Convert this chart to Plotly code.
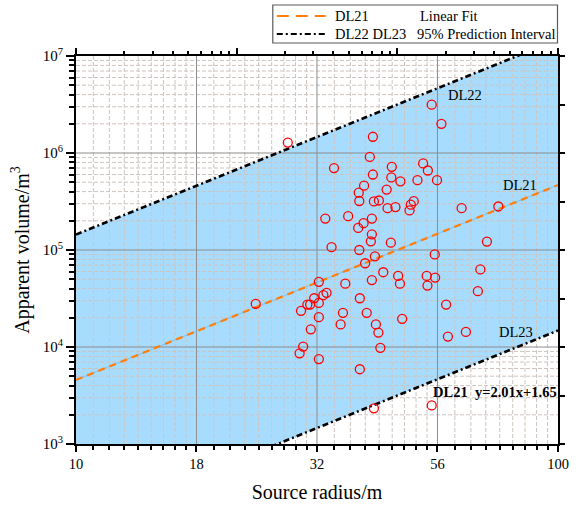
import math
import plotly.graph_objects as go

# ---------------- data ----------------
radius_m = [27.5, 54.7, 57.3, 41.3, 40.7, 34.3, 45.2, 52.5, 53.7, 41.3,
            45.1, 47.1, 51.1, 56.1, 39.6, 38.6, 44.1, 38.7, 41.5, 42.5,
            50.2, 49.5, 49.2, 44.3, 46.0, 63.1, 75.2, 32.9, 36.7, 41.1,
            39.5, 38.5, 41.1, 40.9, 45.0, 71.2, 33.9, 38.7, 41.7, 39.8,
            55.5, 69.0, 43.4, 46.6, 47.0, 53.4, 55.6, 53.6, 41.1, 36.2,
            31.9, 68.2, 31.2, 32.6, 33.1, 30.2, 30.6, 31.9, 29.3, 38.8,
            35.8, 40.1, 31.9, 35.4, 41.9, 42.4, 30.7, 47.5, 58.6, 59.1,
            64.4, 29.6, 29.1, 42.8, 31.9, 38.8, 41.5, 54.7, 23.6]
volume_m3 = [1.28e6, 3.15e6, 2.00e6, 1.47e6, 9.1e5, 7.0e5, 7.2e5, 7.8e5, 6.6e5, 6.0e5,
             5.6e5, 5.1e5, 5.25e5, 5.25e5, 4.6e5, 3.9e5, 4.2e5, 3.2e5, 3.17e5, 3.24e5,
             3.19e5, 2.93e5, 2.56e5, 2.70e5, 2.77e5, 2.70e5, 2.81e5, 2.11e5, 2.23e5, 2.11e5,
             1.89e5, 1.69e5, 1.45e5, 1.23e5, 1.19e5, 1.22e5, 1.07e5, 1.00e5, 8.6e4, 7.3e4,
             9.0e4, 6.3e4, 5.9e4, 5.4e4, 4.5e4, 5.4e4, 5.2e4, 4.3e4, 4.9e4, 4.5e4,
             4.7e4, 3.76e4, 3.18e4, 3.42e4, 3.62e4, 2.74e4, 2.74e4, 2.85e4, 2.36e4, 3.18e4,
             2.25e4, 2.25e4, 2.03e4, 1.71e4, 1.71e4, 1.41e4, 1.52e4, 1.95e4, 2.74e4, 1.28e4,
             1.43e4, 1.01e4, 8.6e3, 9.8e3, 7.5e3, 5.9e3, 2.33e3, 2.50e3, 2.79e4]

# linear fit in log-log space (DL21: y = 2.01x + 1.65) and 95% prediction half-width
fit_slope = 2.01
fit_intercept = 1.65
pred_half_width = 1.5
fit_x_ends = [10, 100]

# axis ticks
x_major = [10, 17.78, 31.62, 56.23, 100]
x_labels = ["10", "18", "32", "56", "100"]
y_major = [1e3, 1e4, 1e5, 1e6, 1e7]
y_labels = ["10<sup>3</sup>", "10<sup>4</sup>", "10<sup>5</sup>", "10<sup>6</sup>", "10<sup>7</sup>"]

# ---------------- derived tick sets ----------------
x_minor = []
for a, b in zip(x_major[:-1], x_major[1:]):
    step = (b - a) / 9
    x_minor += [a + step * k for k in range(1, 9)]
y_minor = [m * d for d in y_major[:-1] for m in range(2, 10)]
y_right = [10 ** (3 + 0.5 * k) for k in range(9)]
top_major = [1e3, 1e4, 1e5, 1e6]
top_minor = [m * d for d in top_major[:-1] for m in range(2, 10)]

def line_vals(offset):
    return [10 ** (fit_slope * math.log10(x) + fit_intercept + offset) for x in fit_x_ends]

fit_y = line_vals(0)
up_y = line_vals(pred_half_width)
lo_y = line_vals(-pred_half_width)

FONT = "Liberation Serif"
fig = go.Figure()

# prediction band
fig.add_trace(go.Scatter(
    x=fit_x_ends + fit_x_ends[::-1], y=up_y + lo_y[::-1],
    fill="toself", fillcolor="rgb(168,220,255)", line=dict(width=0),
    mode="lines", hoverinfo="skip", showlegend=False))

# grid drawn above the band
def grid_trace(vals, vertical, color, dash, width):
    xs, ys = [], []
    for v in vals:
        if vertical:
            xs += [v, v, None]; ys += [y_major[0], y_major[-1], None]
        else:
            xs += [x_major[0], x_major[-1], None]; ys += [v, v, None]
    return go.Scatter(x=xs, y=ys, mode="lines", hoverinfo="skip", showlegend=False,
                      line=dict(color=color, dash=dash, width=width))

fig.add_trace(grid_trace(x_minor, True, "rgb(205,196,190)", "4px,2px", 1))
fig.add_trace(grid_trace(y_minor, False, "rgb(205,196,190)", "4px,2px", 1))
fig.add_trace(grid_trace(x_major[1:-1], True, "rgb(140,140,140)", "solid", 1))
fig.add_trace(grid_trace(y_major[1:-1], False, "rgb(140,140,140)", "solid", 1))

# fit line
fig.add_trace(go.Scatter(x=fit_x_ends, y=fit_y, mode="lines", hoverinfo="skip", showlegend=False,
                         line=dict(color="rgb(120,195,245)", width=1)))
fig.add_trace(go.Scatter(x=fit_x_ends, y=fit_y, mode="lines", name="DL21", showlegend=False,
                         line=dict(color="rgb(255,127,14)", width=2.2, dash="7px,5px")))
# prediction limits
for yy, nm in [(up_y, "DL22"), (lo_y, "DL23")]:
    fig.add_trace(go.Scatter(x=fit_x_ends, y=yy, mode="lines", name=nm, showlegend=False,
                             line=dict(color="black", width=2.5, dash="6px,3px,2px,3px")))

# data points
fig.add_trace(go.Scatter(x=radius_m, y=volume_m3, mode="markers", showlegend=False,
                         marker=dict(symbol="circle-open", size=9, color="red",
                                     line=dict(color="red", width=1.3))))

# invisible trace to activate the top and right axes
fig.add_trace(go.Scatter(x=[1e3], y=[1e3], xaxis="x2", yaxis="y2", mode="markers",
                         marker=dict(opacity=0), hoverinfo="skip", showlegend=False))

L, R, T, B = 76, 558.5, 56, 444
def PX(x):
    return (x - L) / (R - L)
def PY(y):
    return (B - y) / (B - T)

ann = []
def text(x, y, s, size=14.5, bold=False, xanchor="center"):
    ann.append(dict(xref="paper", yref="paper", x=PX(x), y=PY(y), text=("<b>%s</b>" % s) if bold else s,
                    showarrow=False, xanchor=xanchor, yanchor="middle",
                    font=dict(family=FONT, size=size, color="black")))

text(465, 95, "DL22")
text(520, 185, "DL21")
text(516, 332, "DL23")
text(431, 392, "DL21&nbsp;&nbsp;y=2.01x+1.65", size=14.5, bold=True, xanchor="left")
# legend texts
text(333, 16, "DL21", xanchor="left")
text(418, 16, "Linear Fit", xanchor="left")
text(333, 34, "DL22 DL23", xanchor="left")
text(415, 34, "95% Prediction Interval", xanchor="left")

shapes = [
    dict(type="rect", xref="paper", yref="paper", x0=PX(273), x1=PX(558), y0=PY(43), y1=PY(5),
         line=dict(color="rgb(90,90,90)", width=1.2), fillcolor="white", layer="above"),
    dict(type="line", xref="paper", yref="paper", x0=PX(277), x1=PX(326), y0=PY(16), y1=PY(16),
         line=dict(color="rgb(255,127,14)", width=2.2, dash="12px,7px")),
    dict(type="line", xref="paper", yref="paper", x0=PX(277), x1=PX(326), y0=PY(34), y1=PY(34),
         line=dict(color="black", width=2.2, dash="6px,3px,2px,3px")),
]

fig.update_layout(
    width=576, height=508,
    margin=dict(l=L, r=576 - R, t=T, b=508 - B, pad=0, autoexpand=False),
    paper_bgcolor="white", plot_bgcolor="white",
    font=dict(family=FONT, size=14, color="black"),
    showlegend=False,
    annotations=ann, shapes=shapes,
    xaxis=dict(type="log", range=[1, 2], tickmode="array", tickvals=x_major, ticktext=x_labels,
               automargin=False,
               ticks="outside", ticklen=6, tickwidth=2, tickcolor="black",
               showline=True, linewidth=2, linecolor="black", mirror=True,
               showgrid=False, zeroline=False, tickfont=dict(family=FONT, size=14.5),
               minor=dict(tickmode="array", tickvals=x_minor, ticks="outside", ticklen=3.5,
                          tickwidth=1.5, tickcolor="black", showgrid=False),
               title=dict(text="Source radius/m", font=dict(family=FONT, size=20), standoff=14)),
    yaxis=dict(type="log", range=[3, 7], tickmode="array", tickvals=y_major, ticktext=y_labels,
               automargin=False,
               ticks="outside", ticklen=8, tickwidth=2, tickcolor="black",
               showline=True, linewidth=2, linecolor="black", mirror=True,
               showgrid=False, zeroline=False, tickfont=dict(family=FONT, size=15),
               minor=dict(tickmode="array", tickvals=y_minor, ticks="outside", ticklen=5,
                          tickwidth=1.5, tickcolor="black", showgrid=False),
               title=dict(text="Apparent volume/m<sup>3</sup>", font=dict(family=FONT, size=20), standoff=8)),
    xaxis2=dict(type="log", range=[3, 6], overlaying="x", side="top", anchor="y",
                automargin=False,
                tickmode="array", tickvals=top_major, ticks="outside", ticklen=7, tickwidth=2,
                tickcolor="black", showticklabels=False, showgrid=False, zeroline=False,
                showline=False,
                minor=dict(tickmode="array", tickvals=top_minor, ticks="outside", ticklen=4,
                           tickwidth=1.5, tickcolor="black", showgrid=False)),
    yaxis2=dict(type="log", range=[3, 7], overlaying="y", side="right", anchor="x",
                automargin=False,
                tickmode="array", tickvals=y_right, ticks="outside", ticklen=6, tickwidth=2,
                tickcolor="black", showticklabels=False, showgrid=False, zeroline=False,
                showline=False),
)

fig.write_html("out.html")
